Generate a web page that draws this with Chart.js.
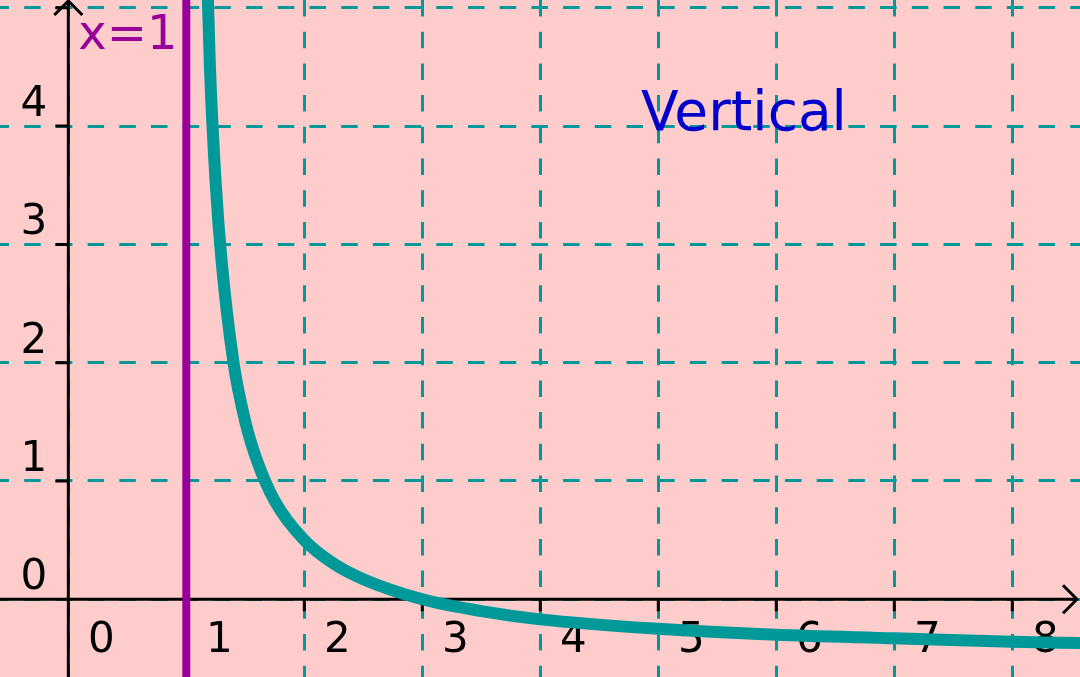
<!DOCTYPE html>
<html>
<head>
<meta charset="utf-8">
<script src="https://cdn.jsdelivr.net/npm/chart.js@4.4.0/dist/chart.umd.min.js"></script>
<style>
    html, body { margin: 0; padding: 0; background: #ffcccc; }
    #graph { display: block; }
</style>
</head>
<body>
<canvas id="graph" width="1080" height="677"></canvas>
<script>
// values
var xTickLabels = ['0', '1', '2', '3', '4', '5', '6', '7', '8'];
var yTickLabels = ['0', '1', '2', '3', '4'];
var xRange = [-0.579, 8.574];
var yRange = [-0.657, 5.066];
var curveX = [1.15, 1.2, 1.25, 1.3, 1.4, 1.5, 1.6, 1.75, 2.0, 2.25, 2.5, 3.0, 3.5, 4.0, 5.0, 6.0, 7.0, 8.0, 8.6];
var curveY = [6.2, 4.5, 3.5, 2.85, 2.0, 1.5, 1.17, 0.83, 0.5, 0.3, 0.17, 0.0, -0.1, -0.17, -0.25, -0.3, -0.33, -0.36, -0.37];
var asymptoteX = 1;
var asymptoteLabel = 'x=1';
var titleText = 'Vertical';

var teal = '#009999',
    purple = '#990099',
    pink = '#ffcccc',
    fontName = '"DejaVu Sans", sans-serif';

var curvePoints = [];
for (var i = 0; i < curveX.length; i++) {
    curvePoints.push({x: curveX[i], y: curveY[i]});
}
var asymptotePoints = [{x: asymptoteX, y: yRange[0]}, {x: asymptoteX, y: yRange[1]}];

var backPlugin = {
    id: 'pinkBack',
    beforeDraw: function(chart) {
        var c = chart.ctx;
        c.save();
        c.fillStyle = pink;
        c.fillRect(0, 0, chart.width, chart.height);
        c.restore();
    }
};

var axesPlugin = {
    id: 'axesAndText',
    beforeDatasetsDraw: function(chart) {
        var c = chart.ctx,
            xs = chart.scales.x,
            ys = chart.scales.y,
            ox = xs.getPixelForValue(0),
            oy = ys.getPixelForValue(0),
            right = chart.width - 3;
        c.save();
        c.strokeStyle = '#000';
        c.lineWidth = 3;
        c.beginPath();
        c.moveTo(0, oy);
        c.lineTo(right, oy);
        c.moveTo(right - 14, oy - 14);
        c.lineTo(right, oy);
        c.lineTo(right - 14, oy + 14);
        c.moveTo(ox, chart.height);
        c.lineTo(ox, 1);
        c.moveTo(ox - 14, 15);
        c.lineTo(ox, 1);
        c.lineTo(ox + 14, 15);
        xs.ticks.forEach(function(t) {
            var px = xs.getPixelForValue(t.value);
            c.moveTo(px, oy);
            c.lineTo(px, oy + 12);
        });
        ys.ticks.forEach(function(t) {
            var py = ys.getPixelForValue(t.value);
            c.moveTo(ox - 13, py);
            c.lineTo(ox, py);
        });
        c.stroke();

        // tick labels
        c.fillStyle = '#000';
        c.font = '42px ' + fontName;
        c.textBaseline = 'alphabetic';
        c.textAlign = 'center';
        xs.ticks.forEach(function(t) {
            var lbl = xTickLabels[t.value];
            if (lbl !== undefined) c.fillText(lbl, xs.getPixelForValue(t.value) + 33, oy + 53);
        });
        c.textAlign = 'right';
        ys.ticks.forEach(function(t) {
            var lbl = yTickLabels[t.value];
            if (lbl !== undefined) c.fillText(lbl, ox - 21, ys.getPixelForValue(t.value) - 10);
        });

        c.textAlign = 'left';
        c.fillStyle = purple;
        c.font = '48px ' + fontName;
        c.fillText(asymptoteLabel, ox + 10, 49);
        c.fillStyle = '#0000cc';
        c.font = '55px ' + fontName;
        c.fillText(titleText, 641, 130);
        c.restore();
    }
};

var ctx = document.getElementById('graph').getContext('2d');
var myChart = new Chart(ctx, {
    type: 'scatter',
    data: {
        datasets: [
            {
                label: 'curve',
                data: curvePoints,
                showLine: true,
                borderColor: teal,
                borderWidth: 12,
                pointRadius: 0,
                fill: false,
                cubicInterpolationMode: 'monotone'
            },
            {
                label: asymptoteLabel,
                data: asymptotePoints,
                showLine: true,
                borderColor: purple,
                borderWidth: 8,
                pointRadius: 0,
                fill: false
            }
        ]
    },
    options: {
        responsive: false,
        animation: false,
        events: [],
        layout: {padding: 0},
        plugins: {legend: {display: false}, tooltip: {enabled: false}},
        scales: {
            x: {
                type: 'linear',
                min: xRange[0],
                max: xRange[1],
                ticks: {display: false, stepSize: 1, includeBounds: false},
                grid: {color: teal, lineWidth: 3, drawTicks: false, borderDash: [16.5, 15.2], borderDashOffset: 0},
                border: {display: false, dash: [16.5, 15.2], dashOffset: 0}
            },
            y: {
                type: 'linear',
                min: yRange[0],
                max: yRange[1],
                ticks: {display: false, stepSize: 1, includeBounds: false},
                grid: {color: teal, lineWidth: 3, drawTicks: false, borderDash: [16.5, 15.2], borderDashOffset: 7.5},
                border: {display: false, dash: [16.5, 15.2], dashOffset: 7.5}
            }
        }
    },
    plugins: [backPlugin, axesPlugin]
});
</script>
</body>
</html>
